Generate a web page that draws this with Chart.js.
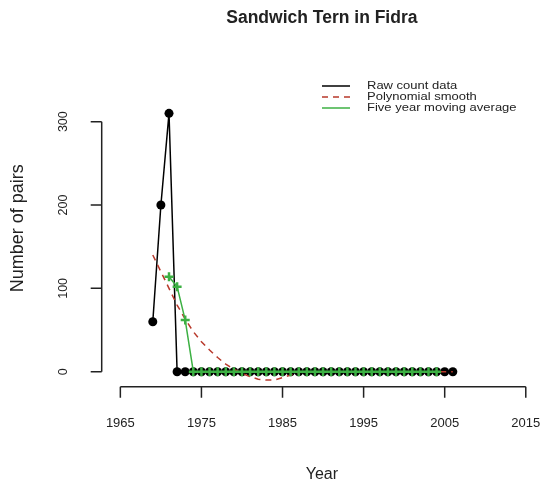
<!DOCTYPE html>
<html>
<head>
<meta charset="utf-8">
<script src="https://cdn.jsdelivr.net/npm/chart.js@4.4.1/dist/chart.umd.min.js"></script>
<style>
  body { margin: 0; background: #fff; }
  #wrap { width: 549px; height: 489px; }
</style>
</head>
<body>
<div id="wrap"><canvas id="tern" width="549" height="489"></canvas></div>
<script>
// Sandwich Tern counts, Fidra
var years = [1969, 1970, 1971, 1972, 1973, 1974, 1975, 1976, 1977, 1978,
             1979, 1980, 1981, 1982, 1983, 1984, 1985, 1986, 1987, 1988,
             1989, 1990, 1991, 1992, 1993, 1994, 1995, 1996, 1997, 1998,
             1999, 2000, 2001, 2002, 2003, 2004, 2005, 2006];
var rawCounts = [60, 200, 310, 0, 0, 0, 0, 0, 0, 0,
                 0, 0, 0, 0, 0, 0, 0, 0, 0, 0,
                 0, 0, 0, 0, 0, 0, 0, 0, 0, 0,
                 0, 0, 0, 0, 0, 0, 0, 0];
var polySmooth = [140, 120, 100, 80, 63, 48, 36, 26, 17, 9,
                  3, -2, -6, -9, -10, -10, -7, -4, -1, 0,
                  0, 0, 0, 0, 0, 0, 0, 0, 0, 0,
                  0, 0, 0, 0, 0, 0, 0, 0];
var maYears = [1971, 1972, 1973, 1974, 1975, 1976, 1977, 1978, 1979, 1980,
               1981, 1982, 1983, 1984, 1985, 1986, 1987, 1988, 1989, 1990,
               1991, 1992, 1993, 1994, 1995, 1996, 1997, 1998, 1999, 2000,
               2001, 2002, 2003, 2004];
var movingAvg = [114, 102, 62, 0, 0, 0, 0, 0, 0, 0,
                 0, 0, 0, 0, 0, 0, 0, 0, 0, 0,
                 0, 0, 0, 0, 0, 0, 0, 0, 0, 0,
                 0, 0, 0, 0];
var xTicks = [1965, 1975, 1985, 1995, 2005, 2015];
var yTicks = [0, 100, 200, 300];
var legendLabels = ['Raw count data', 'Polynomial smooth', 'Five year moving average'];

function pairs(xs, ys) {
    return xs.map(function(x, i) { return { x: x, y: ys[i] }; });
}

var font = '"Liberation Sans", Arial, sans-serif';

// R style axes, titles and legend
var rAxes = {
    id: 'rAxes',
    afterDraw: function(chart) {
        var ctx = chart.ctx, xs = chart.scales.x, ys = chart.scales.y, area = chart.chartArea;
        ctx.save();
        ctx.strokeStyle = '#222';
        ctx.fillStyle = '#222';
        ctx.lineWidth = 1.5;

        // x axis
        var x0 = xs.getPixelForValue(xTicks[0]), x1 = xs.getPixelForValue(xTicks[xTicks.length - 1]);
        ctx.beginPath();
        ctx.moveTo(x0, area.bottom); ctx.lineTo(x1, area.bottom);
        xTicks.forEach(function(t) {
            var px = xs.getPixelForValue(t);
            ctx.moveTo(px, area.bottom); ctx.lineTo(px, area.bottom + 11);
        });
        ctx.stroke();
        ctx.font = '13px ' + font;
        ctx.textAlign = 'center';
        ctx.textBaseline = 'middle';
        xTicks.forEach(function(t) {
            ctx.fillText(String(t), xs.getPixelForValue(t), 423);
        });

        // y axis
        var y0 = ys.getPixelForValue(yTicks[0]), y1 = ys.getPixelForValue(yTicks[yTicks.length - 1]);
        ctx.beginPath();
        ctx.moveTo(area.left, y0); ctx.lineTo(area.left, y1);
        yTicks.forEach(function(t) {
            var py = ys.getPixelForValue(t);
            ctx.moveTo(area.left, py); ctx.lineTo(area.left - 11, py);
        });
        ctx.stroke();
        ctx.font = '12.5px ' + font;
        yTicks.forEach(function(t) {
            ctx.save();
            ctx.translate(64, ys.getPixelForValue(t));
            ctx.rotate(-Math.PI / 2);
            ctx.fillText(String(t), 0, 0);
            ctx.restore();
        });

        // titles
        var cx = (area.left + area.right) / 2, cy = (area.top + area.bottom) / 2;
        ctx.font = 'bold 17.5px ' + font;
        ctx.fillText('Sandwich Tern in Fidra', cx, 18);
        ctx.font = '16px ' + font;
        ctx.fillText('Year', cx, 475);
        ctx.save();
        ctx.translate(18, cy);
        ctx.rotate(-Math.PI / 2);
        ctx.font = '18px ' + font;
        ctx.fillText('Number of pairs', 0, 0);
        ctx.restore();

        // legend (raw, poly, moving average)
        var order = [2, 1, 0];
        ctx.textAlign = 'left';
        ctx.font = '10px ' + font;
        order.forEach(function(di, row) {
            var ds = chart.data.datasets[di];
            var ly = 86 + row * 11;
            ctx.save();
            ctx.strokeStyle = ds.borderColor;
            ctx.lineWidth = ds.borderWidth;
            ctx.setLineDash(ds.borderDash || []);
            ctx.beginPath();
            ctx.moveTo(322, ly); ctx.lineTo(350, ly);
            ctx.stroke();
            ctx.restore();
            ctx.save();
            ctx.translate(367, ly);
            ctx.scale(1.3, 1);
            ctx.fillText(legendLabels[row], 0, 0);
            ctx.restore();
        });
        ctx.restore();
    }
};

var ctx = document.getElementById('tern').getContext('2d');
var ternChart = new Chart(ctx, {
    type: 'line',
    data: {
        datasets: [{
            label: legendLabels[2],
            data: pairs(maYears, movingAvg),
            borderColor: '#3cb043',
            borderWidth: 1.5,
            pointStyle: 'cross',
            pointRadius: 4.5,
            pointBorderWidth: 2.5,
            pointBorderColor: '#3cb043',
            fill: false,
            tension: 0
        }, {
            label: legendLabels[1],
            data: pairs(years, polySmooth),
            borderColor: '#b8392b',
            borderWidth: 1.5,
            borderDash: [6, 5],
            pointRadius: 0,
            fill: false,
            tension: 0
        }, {
            label: legendLabels[0],
            data: pairs(years, rawCounts),
            borderColor: '#000',
            borderWidth: 1.5,
            pointRadius: 4.5,
            pointBackgroundColor: '#000',
            pointBorderColor: '#000',
            pointBorderWidth: 0,
            fill: false,
            tension: 0
        }]
    },
    options: {
        responsive: false,
        animation: false,
        devicePixelRatio: 1,
        layout: { padding: { left: 101.7, right: 0.7, top: 70, bottom: 102.3 } },
        plugins: { legend: { display: false }, title: { display: false }, tooltip: { enabled: false } },
        scales: {
            x: { type: 'linear', min: 1962.7, max: 2017.0, display: false },
            y: { min: -18, max: 362, display: false }
        }
    },
    plugins: [rAxes]
});
</script>
</body>
</html>
